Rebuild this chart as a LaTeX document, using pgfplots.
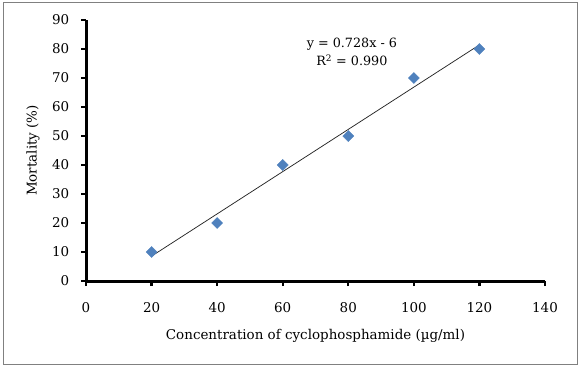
\documentclass[border=0pt]{standalone}
\usepackage{fontspec}
\setmainfont{DejaVu Serif}
\usepackage{pgfplots}
\pgfplotsset{compat=1.18}
\definecolor{excelblue}{HTML}{4F81BD}
\newcommand{\cf}{\fontsize{13.5}{16}\selectfont}
\begin{document}
\begin{tikzpicture}[x=1bp,y=1bp]
\path[use as bounding box] (0,0) rectangle (582,369);
\draw[black!50, line width=1bp] (3,5) rectangle (577,366);
\begin{axis}[
  at={(86bp,88bp)}, anchor=south west,
  scale only axis, width=459bp, height=261bp,
  xmin=0, xmax=140, ymin=0, ymax=90,
  xtick={0,20,...,140}, ytick={0,10,...,90},
  separate axis lines,
  axis x line=bottom, axis y line=left,
  every outer x axis line/.append style={-, line width=3bp, black},
  every outer y axis line/.append style={-, line width=3bp, black},
  tick align=outside, major tick length=5bp,
  tick style={black, line width=2.2bp},
  /pgf/number format/assume math mode=true,
  tick label style={font=\cf, inner sep=4.5bp},
  xticklabel style={yshift=-11.5bp},
  yticklabel style={xshift=-7bp},
  xlabel={Concentration of cyclophosphamide (µg/ml)},
  ylabel={Mortality (\%)},
  label style={font=\cf},
  xlabel style={at={(axis description cs:0.5,0)}, anchor=center, yshift=-55bp},
  ylabel style={at={(axis description cs:0,0.5)}, anchor=center, yshift=53bp},
  clip=false,
]
\addplot[only marks, mark=square*, mark size=3.9bp, mark options={rotate=45, fill=excelblue, draw=excelblue}]
  coordinates {(20,10) (40,20) (60,40) (80,50) (100,70) (120,80)};
\addplot[black!85, line width=0.75bp] coordinates {(20,8.571) (120,81.429)};
\node[font=\fontsize{12.8}{18}\selectfont, align=center, inner sep=0pt] at (axis cs:81.1,79.0) {y = 0.728x - 6\\R\textsuperscript{2} = 0.990};
\end{axis}
\end{tikzpicture}
\end{document}
